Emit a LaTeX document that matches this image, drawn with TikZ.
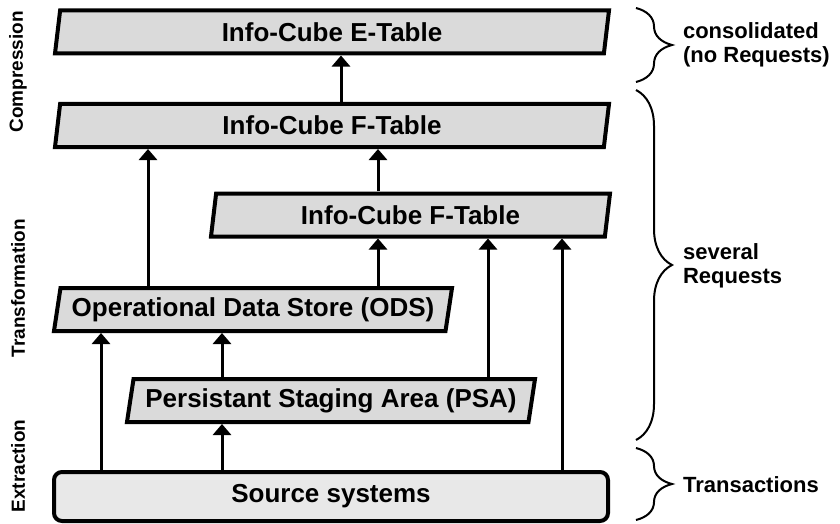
\documentclass[tikz,border=0pt]{standalone}
\usepackage{fontspec}
\setmainfont{Liberation Sans}
\usetikzlibrary{arrows.meta, positioning, shapes.geometric, decorations.pathreplacing}
\definecolor{boxgray}{RGB}{218, 218, 218}
\definecolor{srcgray}{RGB}{232, 232, 232}

\begin{document}
\begin{tikzpicture}[
                x=0.5pt, y=-0.5pt,
                layer/.style={draw, line width=2pt, fill=boxgray, trapezium,
                    trapezium left angle=75, trapezium right angle=105,
                    trapezium stretches body, minimum height=21.5pt, inner sep=0pt,
                    font=\fontsize{13}{15}\selectfont\bfseries},
                source/.style={draw, line width=2pt, fill=srcgray, rounded corners=4pt,
                    minimum width=277pt, minimum height=24.5pt,
                    font=\fontsize{13}{15}\selectfont\bfseries},
                arrow/.style={-{Triangle[width=9pt, length=5.5pt]}, line width=1.5pt},
                sidelabel/.style={rotate=90, font=\fontsize{9.5}{11}\selectfont\bfseries},
                rightlabel/.style={anchor=west, align=left,
                    font=\fontsize{11}{12}\selectfont\bfseries},
                grpbrace/.style={decorate, decoration={brace, amplitude=18pt}, line width=1pt}
            ]
                \useasboundingbox (0,0) rectangle (840,524);
                \node[layer, minimum width=277pt]   (etab)  at (332,32)    {Info-Cube E-Table};
                \node[layer, minimum width=277pt]   (ftab)  at (332,125.5) {Info-Cube F-Table};
                \node[layer, minimum width=199.5pt] (ftabb) at (410.5,215) {Info-Cube F-Table};
                \node[layer, minimum width=199pt]   (ods)   at (253,309.5) {Operational Data Store (ODS)};
                \node[layer, minimum width=204pt]   (psa)   at (331,400.5) {Persistant Staging Area (PSA)};
                \node[source]                       (src)   at (331,496.5) {Source systems};
                % arrow columns
                \coordinate (colA) at (101,0);
                \coordinate (colB) at (222,0);
                \coordinate (colC) at (148,0);
                \coordinate (colD) at (378,0);
                \coordinate (colE) at (488,0);
                \coordinate (colF) at (562,0);
                \coordinate (colG) at (341,0);
                \draw[arrow] (src.north -| colA)   -- (ods.south -| colA);
                \draw[arrow] (src.north -| colB)   -- (psa.south -| colB);
                \draw[arrow] (psa.north -| colB)   -- (ods.south -| colB);
                \draw[arrow] (psa.north -| colE)   -- (ftabb.south -| colE);
                \draw[arrow] (src.north -| colF)   -- (ftabb.south -| colF);
                \draw[arrow] (ods.north -| colC)   -- (ftab.south -| colC);
                \draw[arrow] (ods.north -| colD)   -- (ftabb.south -| colD);
                \draw[arrow] (ftabb.north -| colD) -- (ftab.south -| colD);
                \draw[arrow] (ftab.north -| colG)  -- (etab.south -| colG);
                % phases
                \node[sidelabel] (compr)  at (18,72)  {Compression};
                \node[sidelabel] (transf) at (18,288) {Transformation};
                \node[sidelabel] (extr)   at (18,466) {Extraction};
                % braces
                \coordinate (bra) at (636,8);
                \coordinate (brb) at (636,82);
                \coordinate (brc) at (636,90);
                \coordinate (brd) at (636,440);
                \coordinate (bre) at (636,448);
                \coordinate (brf) at (636,520);
                \draw[grpbrace] (bra) -- (brb);
                \draw[grpbrace] (brc) -- (brd);
                \draw[grpbrace] (bre) -- (brf);
                \node[rightlabel] (consol)  at (676,45)  {consolidated\\(no Requests)};
                \node[rightlabel] (several) at (676,266) {several\\Requests};
                \node[rightlabel] (trans)   at (676,485) {Transactions};
            \end{tikzpicture}
\end{document}
